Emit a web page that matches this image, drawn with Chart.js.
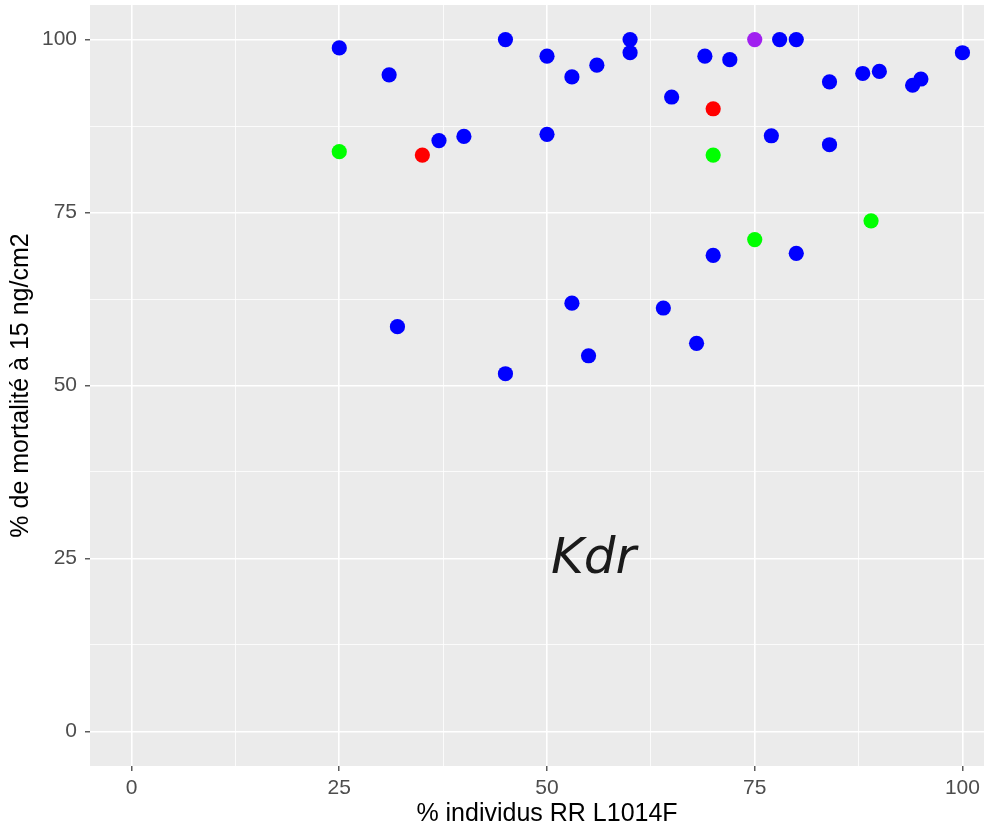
<!DOCTYPE html>
<html><head><meta charset="utf-8">
<script src="https://cdn.jsdelivr.net/npm/chart.js@4.4.0/dist/chart.umd.min.js"></script>
<style>
html,body{margin:0;padding:0;overflow:hidden;background:#fff;width:984px;height:830px}
#wrap{width:1004px;height:830px;position:relative}
canvas{display:block}
</style></head>
<body><div id="wrap"><canvas id="c" width="1004" height="830"></canvas></div>
<script>
// ---- data ----
const blueX = [25, 31, 32, 37, 40, 45, 45, 50, 50, 53, 53, 55, 56, 60, 60, 64, 65, 68, 69, 70, 72, 77, 78, 80, 80, 84, 84, 88, 90, 94, 95, 100];
const blueY = [98.8, 94.9, 58.5, 85.4, 86.0, 100, 51.7, 97.6, 86.3, 94.6, 61.9, 54.3, 96.3, 100, 98.1, 61.2, 91.7, 56.1, 97.6, 68.8, 97.1, 86.1, 100, 100, 69.1, 93.9, 84.8, 95.1, 95.4, 93.4, 94.3, 98.1];
const redX = [35, 70];
const redY = [83.3, 90.0];
const greenX = [25, 70, 75, 89];
const greenY = [83.8, 83.3, 71.1, 73.8];
const purpleX = [75];
const purpleY = [100];

const xMajorTicks = [0, 25, 50, 75, 100];
const xMinorTicks = [12.5, 37.5, 62.5, 87.5];
const yMajorTicks = [0, 25, 50, 75, 100];
const yMinorTicks = [12.5, 37.5, 62.5, 87.5];

const xTitle = '% individus RR L1014F';
const yTitle = '% de mortalité à 15 ng/cm2';
const noteText = 'Kdr';
const noteX = 55.6;
const noteY = 24.8;

// ---- helpers ----
const pts = (xs, ys) => xs.map((v, i) => ({x: v, y: ys[i]}));
const TICK_FONT = {family: '"Liberation Sans", Arial, sans-serif', size: 21};
const TITLE_FONT = {family: '"Liberation Sans", Arial, sans-serif', size: 25, lineHeight: 1};

function axisOpts(major, minor, isX) {
  return {
    type: 'linear',
    min: -5, max: 105,
    afterBuildTicks: s => { s.ticks = [...major, ...minor].sort((a, b) => a - b).map(v => ({value: v})); },
    afterFit: s => {
      if (isX) s.height = 64; else s.width = 90;
      s.paddingTop = 0; s.paddingBottom = 0; s.paddingLeft = 0; s.paddingRight = 0;
    },
    ticks: {
      autoSkip: false, maxRotation: 0,
      callback: v => major.includes(v) ? String(v) : '',
      color: '#4D4D4D', font: TICK_FONT, padding: isX ? 5 : 8
    },
    grid: {
      color: '#FFFFFF',
      lineWidth: c => (c.tick && major.includes(c.tick.value)) ? 1.6 : 0.8,
      tickColor: c => (c.tick && major.includes(c.tick.value)) ? '#333333' : 'rgba(0,0,0,0)',
      tickWidth: 1.2,
      tickLength: 5,
      drawTicks: true
    },
    border: {display: false},
    title: {
      display: true, text: isX ? xTitle : yTitle, color: '#000000', font: TITLE_FONT,
      padding: isX ? {top: 0, bottom: 3} : {top: 9, bottom: 0}
    }
  };
}

const bgPlugin = {
  id: 'bg',
  beforeDraw(chart) {
    const {ctx, chartArea: a} = chart;
    ctx.save();
    ctx.fillStyle = '#FFFFFF';
    ctx.fillRect(0, 0, chart.width, chart.height);
    ctx.fillStyle = '#EBEBEB';
    ctx.fillRect(a.left, a.top, a.right - a.left, a.bottom - a.top);
    ctx.restore();
  }
};
const notePlugin = {
  id: 'note',
  afterDatasetsDraw(chart) {
    const {ctx, scales} = chart;
    ctx.save();
    ctx.font = 'oblique 50px "DejaVu Sans", sans-serif';
    ctx.fillStyle = '#1A1A1A';
    ctx.textAlign = 'center';
    ctx.textBaseline = 'middle';
    ctx.fillText(noteText, scales.x.getPixelForValue(noteX), scales.y.getPixelForValue(noteY));
    ctx.restore();
  }
};

const ds = (label, xs, ys, col) => ({
  label, data: pts(xs, ys), backgroundColor: col, borderColor: col,
  pointRadius: 7.6, pointBorderWidth: 0, pointHoverRadius: 7.6, pointHoverBorderWidth: 0
});

new Chart(document.getElementById('c'), {
  type: 'scatter',
  data: {
    datasets: [
      ds('blue', blueX, blueY, '#0000FF'),
      ds('red', redX, redY, '#FF0000'),
      ds('green', greenX, greenY, '#00FF00'),
      ds('purple', purpleX, purpleY, '#A020F0')
    ]
  },
  options: {
    responsive: false, animation: false, devicePixelRatio: 1,
    layout: {autoPadding: false, padding: {top: 5, left: 0, right: 0, bottom: 0}},
    plugins: {legend: {display: false}, tooltip: {enabled: false}},
    events: [],
    scales: {
      x: axisOpts(xMajorTicks, xMinorTicks, true),
      y: axisOpts(yMajorTicks, yMinorTicks, false)
    }
  },
  plugins: [bgPlugin, notePlugin]
});
</script>
</body></html>
